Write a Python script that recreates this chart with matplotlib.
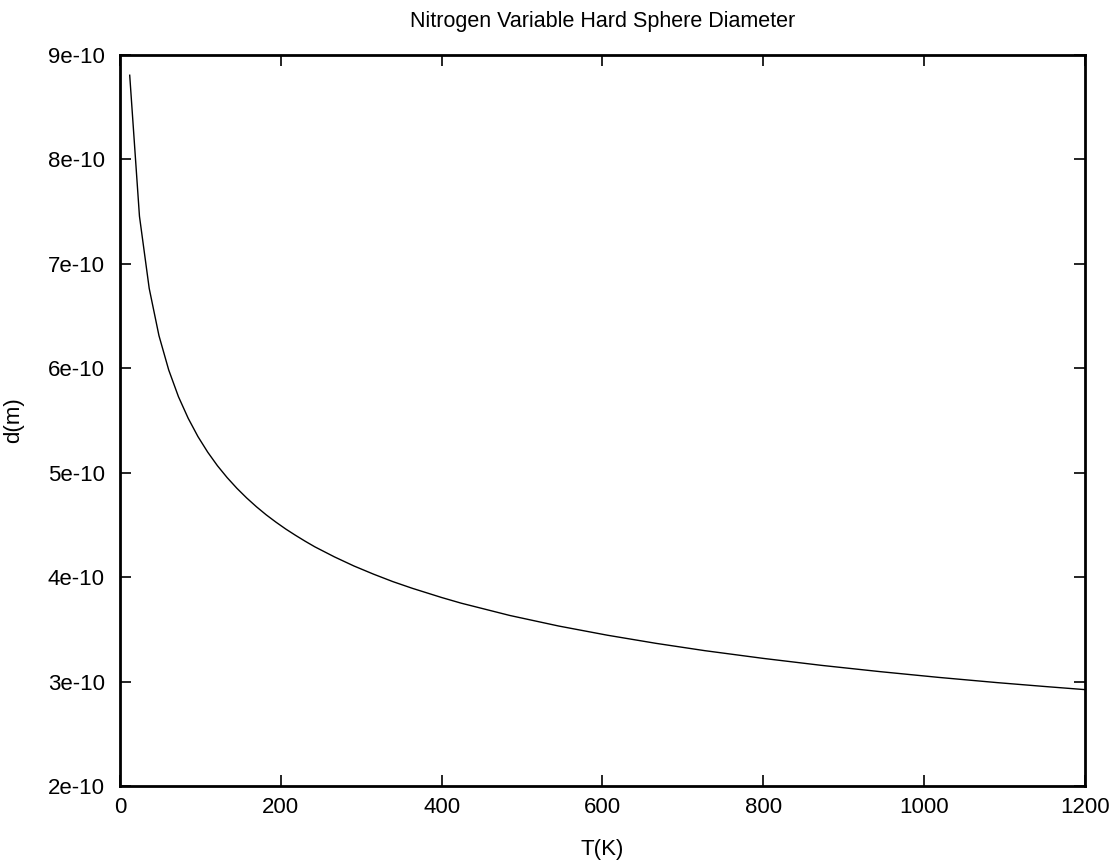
import matplotlib
matplotlib.use("Agg")
import matplotlib.pyplot as plt

# temperature samples (K) and variable hard sphere diameter (m)
temperature = [12.12, 24.24, 36.36, 48.48, 60.61, 72.73, 84.85, 96.97, 109.1, 121.2,
               133.3, 145.5, 157.6, 169.7, 181.8, 193.9, 206.1, 218.2, 230.3, 242.4,
               266.7, 290.9, 315.2, 339.4, 363.6, 400.0, 424.2, 484.8, 545.5, 606.1,
               666.7, 727.3, 800.0, 872.7, 945.5, 1018.2, 1090.9, 1151.5, 1200.0]
diameter = [8.806e-10, 7.456e-10, 6.765e-10, 6.313e-10, 5.984e-10, 5.728e-10, 5.521e-10,
            5.346e-10, 5.197e-10, 5.067e-10, 4.953e-10, 4.850e-10, 4.758e-10, 4.674e-10,
            4.597e-10, 4.527e-10, 4.461e-10, 4.401e-10, 4.344e-10, 4.290e-10, 4.194e-10,
            4.107e-10, 4.029e-10, 3.957e-10, 3.893e-10, 3.805e-10, 3.751e-10, 3.633e-10,
            3.532e-10, 3.444e-10, 3.366e-10, 3.296e-10, 3.222e-10, 3.155e-10, 3.095e-10,
            3.040e-10, 2.990e-10, 2.952e-10, 2.923e-10]

x_ticks = [0, 200, 400, 600, 800, 1000, 1200]
y_ticks = [2e-10, 3e-10, 4e-10, 5e-10, 6e-10, 7e-10, 8e-10, 9e-10]
y_tick_labels = ["2e-10", "3e-10", "4e-10", "5e-10", "6e-10", "7e-10", "8e-10", "9e-10"]

plt.rcParams["font.family"] = ["Liberation Sans", "DejaVu Sans"]

fig = plt.figure(figsize=(11.18, 8.63), dpi=100)
ax = fig.add_axes([0.1073, 0.0892, 0.8632, 0.8471])

ax.plot(temperature, diameter, color="black", linewidth=1.0)

ax.set_xlim(0, 1200)
ax.set_ylim(2e-10, 9e-10)
ax.set_xticks(x_ticks)
ax.set_yticks(y_ticks)
ax.set_yticklabels(y_tick_labels)

# gnuplot-like ticks: inward, mirrored on all sides
ax.tick_params(direction="in", length=8, width=1.2, top=True, right=True,
               labelsize=16, pad=8)
ax.tick_params(axis="y", pad=11)
for s in ax.spines.values():
    s.set_linewidth(2)

ax.set_title("Nitrogen Variable Hard Sphere Diameter", fontsize=15.5, pad=20)
ax.set_xlabel("T(K)", fontsize=16, labelpad=15)
ax.set_ylabel("d(m)", fontsize=16, labelpad=17)

plt.savefig("out.png", dpi=100)
plt.close()
